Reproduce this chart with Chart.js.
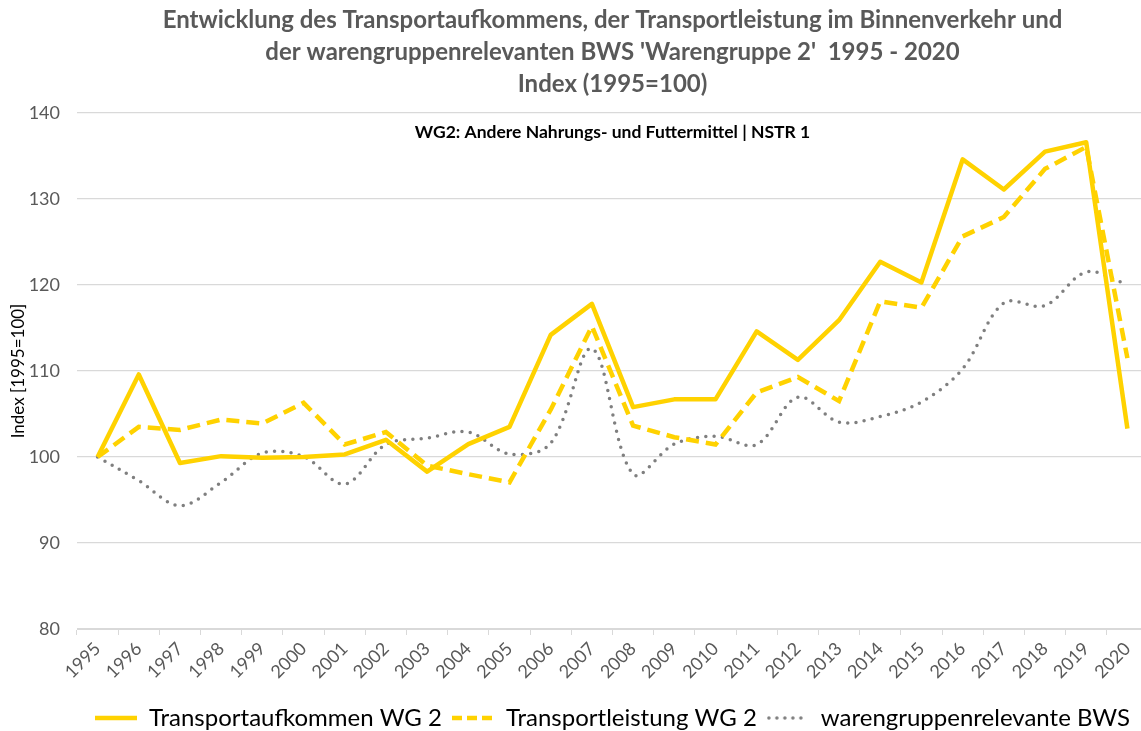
<!DOCTYPE html>
<html>
<head>
<meta charset="utf-8">
<script src="https://cdn.jsdelivr.net/npm/chart.js@4.4.1/dist/chart.umd.min.js"></script>
<style>
  html, body { margin: 0; padding: 0; background: #fff; }
  #wrap { width: 1141px; height: 731px; overflow: hidden; position: relative; }
  #chart { position: absolute; left: 0; top: 0; }
</style>
</head>
<body>
<div id="wrap"><canvas id="chart" width="1234" height="740"></canvas></div>
<script>
// data
const years = ["1995", "1996", "1997", "1998", "1999", "2000", "2001", "2002", "2003", "2004",
  "2005", "2006", "2007", "2008", "2009", "2010", "2011", "2012", "2013", "2014",
  "2015", "2016", "2017", "2018", "2019", "2020"];

const aufkommen = [100, 109.6, 99.3, 100.1, 99.9, 100.0, 100.3, 102.0, 98.3, 101.5,
  103.5, 114.2, 117.8, 105.8, 106.7, 106.7, 114.6, 111.3, 115.9, 122.7,
  120.3, 134.6, 131.1, 135.5, 136.6, 103.3];

const leistung = [100, 103.5, 103.15, 104.35, 103.9, 106.3, 101.45, 102.9, 99.0, 98.0,
  97.05, 105.5, 115.2, 103.65, 102.3, 101.45, 107.5, 109.3, 106.5, 118.1,
  117.35, 125.65, 127.9, 133.5, 136.05, 111.5];

const bws = [100, 97.25, 94.35, 97.05, 100.45, 100.05, 96.85, 101.45, 102.2, 102.9,
  100.35, 101.6, 112.6, 98.0, 101.5, 102.4, 101.45, 106.95, 104.05, 104.7,
  106.4, 110.25, 117.9, 117.6, 121.5, 120.05];

const seriesNames = ["Transportaufkommen WG 2", "Transportleistung WG 2", "warengruppenrelevante BWS"];
const titleLines = [
  "Entwicklung des Transportaufkommens, der Transportleistung im Binnenverkehr und",
  "der warengruppenrelevanten BWS 'Warengruppe 2'  1995 - 2020",
  "Index (1995=100)"
];
const innerTitle = "WG2: Andere Nahrungs- und Futtermittel | NSTR 1";
const yAxisTitle = "Index [1995=100]";
const yMin = 80, yMax = 140, yStep = 10;

const YELLOW = "#FFD200";
const GREY = "#7F7F7F";
const GRID = "#D9D9D9";
const FONT = "Lato, 'Open Sans', sans-serif";

// small line swatches for the legend (the legend box itself ignores dashes)
function makeSwatch(color, width, dash, cap) {
  const c = document.createElement("canvas");
  c.width = 42;
  c.height = 8;
  const g = c.getContext("2d");
  g.strokeStyle = color;
  g.lineWidth = width;
  g.lineCap = cap;
  g.setLineDash(dash);
  g.beginPath();
  g.moveTo(cap === "round" ? 2 : 0, 4);
  g.lineTo(42, 4);
  g.stroke();
  return c;
}
const swatches = [
  makeSwatch(YELLOW, 4.5, [], "butt"),
  makeSwatch(YELLOW, 4.5, [10, 5], "butt"),
  makeSwatch(GREY, 3.5, [0, 8], "round")
];

// draws the bold caption inside the plot area
const innerTitlePlugin = {
  id: "innerTitle",
  afterDraw(chart) {
    const { ctx, chartArea } = chart;
    ctx.save();
    ctx.font = "bold 17.5px " + FONT;
    ctx.fillStyle = "#000";
    ctx.textAlign = "center";
    ctx.textBaseline = "middle";
    ctx.fillText(innerTitle, (chartArea.left + chartArea.right) / 2, chartArea.top + 19);
    ctx.restore();
  }
};

new Chart(document.getElementById("chart"), {
  type: "line",
  data: {
    labels: years,
    datasets: [
      {
        label: seriesNames[0],
        data: aufkommen,
        borderColor: YELLOW,
        backgroundColor: YELLOW,
        borderWidth: 4.5,
        borderJoinStyle: "round",
        pointRadius: 0,
        tension: 0
      },
      {
        label: seriesNames[1],
        data: leistung,
        borderColor: YELLOW,
        backgroundColor: YELLOW,
        borderWidth: 4.5,
        borderDash: [13, 7],
        pointRadius: 0,
        tension: 0
      },
      {
        label: seriesNames[2],
        data: bws,
        borderColor: GREY,
        backgroundColor: GREY,
        borderWidth: 3.5,
        borderDash: [0, 8.3],
        borderCapStyle: "round",
        pointRadius: 0,
        tension: 0.35
      }
    ]
  },
  options: {
    responsive: false,
    animation: false,
    layout: { padding: { left: 0, right: 86, top: 0, bottom: 0 } },
    plugins: {
      title: {
        display: true,
        fullSize: false,
        text: titleLines,
        color: "#595959",
        font: { family: FONT, size: 24, weight: "bold", lineHeight: 1.333 },
        padding: { top: 4, bottom: 13 }
      },
      legend: {
        position: "bottom",
        fullSize: false,
        labels: {
          usePointStyle: true,
          pointStyleWidth: 42,
          color: "#000",
          font: { family: FONT, size: 24 },
          padding: 10,
          generateLabels(chart) {
            const items = Chart.defaults.plugins.legend.labels.generateLabels(chart);
            items.forEach((it, i) => { it.pointStyle = swatches[i]; });
            return items;
          }
        }
      },
      tooltip: { enabled: false }
    },
    scales: {
      x: {
        offset: true,
        grid: { display: true, drawOnChartArea: false, offset: true, color: GRID, tickLength: 6 },
        border: { color: GRID },
        ticks: {
          color: "#595959",
          font: { family: FONT, size: 18 },
          maxRotation: 45,
          minRotation: 45,
          autoSkip: false,
          padding: 3
        },
        afterFit(scale) { scale.height = 67; }
      },
      y: {
        min: yMin,
        max: yMax,
        ticks: {
          stepSize: yStep,
          color: "#595959",
          font: { family: FONT, size: 18 },
          padding: 17
        },
        grid: { color: GRID, lineWidth: 1.3, drawTicks: false },
        border: { display: false },
        title: {
          display: true,
          text: yAxisTitle,
          color: "#000",
          font: { family: FONT, size: 17 },
          padding: { top: 8, bottom: 0 }
        },
        afterFit(scale) { scale.width = 77; }
      }
    }
  },
  plugins: [innerTitlePlugin]
});
</script>
</body>
</html>
